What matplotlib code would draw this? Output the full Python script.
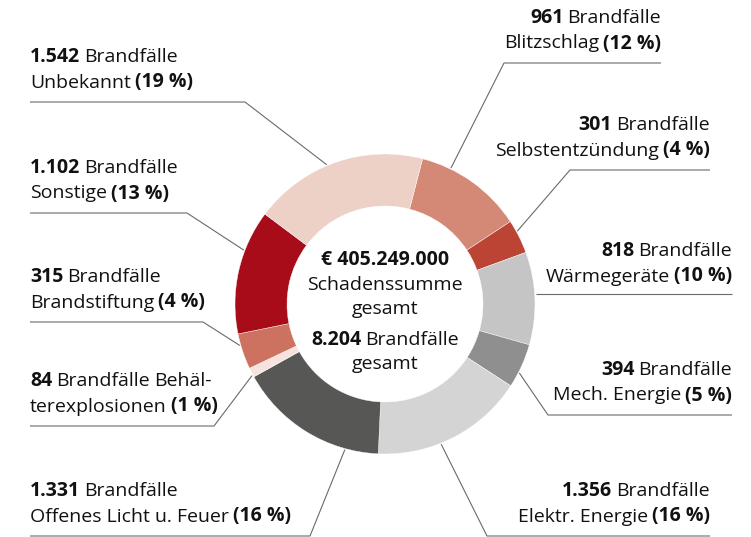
import numpy as np
import matplotlib
matplotlib.use("Agg")
import matplotlib.pyplot as plt

# ---------------- data ----------------
categories = ["Blitzschlag", "Selbstentzündung", "Wärmegeräte", "Mech. Energie",
              "Elektr. Energie", "Offenes Licht u. Feuer", "Behälterexplosionen",
              "Brandstiftung", "Sonstige", "Unbekannt"]
counts = [961, 301, 818, 394, 1356, 1331, 84, 315, 1102, 1542]
percents = [12, 4, 10, 5, 16, 16, 1, 4, 13, 19]
damage_total = "€ 405.249.000"

colors = ["#D48976", "#BB4435", "#C4C5C4", "#8F8F8F", "#D3D4D3",
          "#575756", "#F6E3DF", "#CD7261", "#A90C19", "#EDD0C6"]

# ---------------- layout (pixel units, y from top) ----------------
W, H = 751, 537
CX, CY = 385, 304
R_OUT, RING_W = 150, 52
START_FROM_TOP = 14.5          # degrees clockwise from 12 o'clock
FONT = "Open Sans"
FS = 14
TXT = "#111111"
LINE = "#6a6a6a"

# per label: side, text anchor x (left edge or right edge), underline y,
# underline far end x, fractional position inside wedge for leader
layout = {
    "Blitzschlag":            dict(side="r", tx=661, uy=63,  ux=504, frac=0.27),
    "Selbstentzündung":       dict(side="r", tx=710, uy=170, ux=570, frac=0.34),
    "Wärmegeräte":            dict(side="r", tx=732, uy=296, ux=None, frac=0.45),
    "Mech. Energie":          dict(side="r", tx=732, uy=415, ux=548, frac=0.66),
    "Elektr. Energie":        dict(side="r", tx=710, uy=536, ux=487, frac=0.59),
    "Offenes Licht u. Feuer": dict(side="l", tx=30,  uy=536, ux=310, frac=0.22),
    "Behälterexplosionen":    dict(side="l", tx=30,  uy=426, ux=214, frac=0.2),
    "Brandstiftung":          dict(side="l", tx=30,  uy=322, ux=203, frac=0.68),
    "Sonstige":               dict(side="l", tx=30,  uy=213, ux=187, frac=0.67),
    "Unbekannt":              dict(side="l", tx=30,  uy=102, ux=245, frac=0.45),
}
split_names = {"Behälterexplosionen": ("Behäl-", "terexplosionen")}

def Y(p):
    return H - p

fig = plt.figure(figsize=(W / 100, H / 100), dpi=100)
ax = fig.add_axes([0, 0, 1, 1])

ax.pie(counts, colors=colors, startangle=90 - START_FROM_TOP, counterclock=False,
       center=(CX, Y(CY)), radius=R_OUT,
       wedgeprops=dict(width=RING_W, edgecolor="white", linewidth=0.3))
ax.set_xlim(0, W)
ax.set_ylim(0, H)
ax.set_aspect("equal")
ax.axis("off")

renderer = fig.canvas.get_renderer()

def text_w(s, bold):
    t = ax.text(0, 0, s, fontsize=FS, family=FONT,
                fontweight="bold" if bold else "normal")
    w = t.get_window_extent(renderer).width
    t.remove()
    return w

SPACE = 0.8 * (text_w("x x", False) - text_w("xx", False))

def rich(x, y, segs, ha="left"):
    # segs: list of (text, bold, space_before)
    widths = [text_w(s, b) for s, b, sp in segs]
    total = sum(widths) + sum(SPACE for s, b, sp in segs if sp)
    if ha == "left":
        cur = x
    elif ha == "right":
        cur = x - total
    else:
        cur = x - total / 2
    for (s, b, sp), w in zip(segs, widths):
        if sp:
            cur += SPACE
        ax.text(cur, Y(y), s, fontsize=FS, family=FONT, color=TXT,
                fontweight="bold" if b else "normal", va="baseline", ha="left")
        cur += w

def fmt(n):
    return f"{n:,}".replace(",", ".")

total = sum(counts)
cum = np.concatenate([[0], np.cumsum(counts)]) / total

for i, name in enumerate(categories):
    L = layout[name]
    ang_top = START_FROM_TOP + 360 * (cum[i] + L["frac"] * (cum[i + 1] - cum[i]))
    a = np.deg2rad(90 - ang_top)
    px = CX + (R_OUT + 1) * np.cos(a)
    py = CY - (R_OUT + 1) * np.sin(a)
    uy = L["uy"]
    if name in split_names:
        n1, n2 = split_names[name]
        line1 = [(fmt(counts[i]), True, False), ("Brandfälle", False, True), (n1, False, True)]
        line2 = [(n2, False, False), (f"({percents[i]} %)", True, True)]
    else:
        line1 = [(fmt(counts[i]), True, False), ("Brandfälle", False, True)]
        line2 = [(name, False, False), (f"({percents[i]} %)", True, True)]
    ha = "left" if L["side"] == "l" else "right"
    rich(L["tx"], uy - 40, line1, ha)
    rich(L["tx"], uy - 14.5, line2, ha)
    if L["ux"] is None:
        xs = [px, L["tx"]]
        ys = [py, py]
    else:
        xs = [px, L["ux"], L["tx"]]
        ys = [py, uy, uy]
    ax.plot(xs, [Y(v) for v in ys], color=LINE, lw=0.8, solid_capstyle="butt")

# center text
rich(CX, 265, [(damage_total, True, False)], "center")
rich(CX, 290, [("Schadenssumme", False, False)], "center")
rich(CX, 314, [("gesamt", False, False)], "center")
rich(CX, 345, [(fmt(total), True, False), ("Brandfälle", False, True)], "center")
rich(CX, 369, [("gesamt", False, False)], "center")

fig.savefig("out.png", dpi=100)
